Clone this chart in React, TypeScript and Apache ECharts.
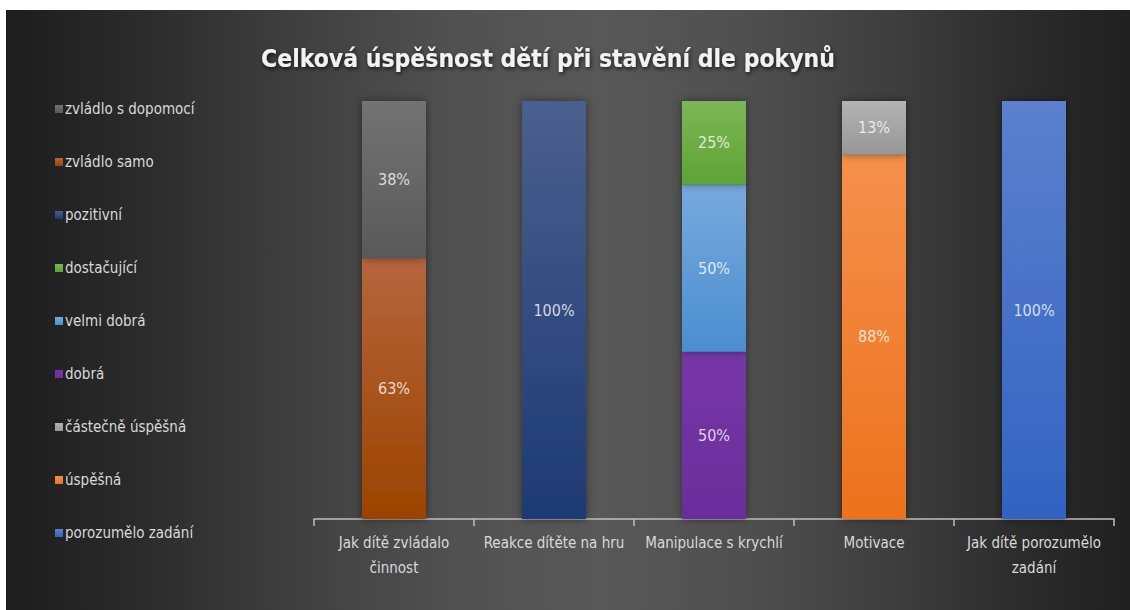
import React, { useEffect, useRef } from "react";
import * as echarts from "echarts";

const titleText = "Celková úspěšnost dětí při stavění dle pokynů";

const categories = [
  "Jak dítě zvládalo\nčinnost",
  "Reakce dítěte na hru",
  "Manipulace s krychlí",
  "Motivace",
  "Jak dítě porozumělo\nzadání",
];

// Series listed in legend order (top of legend first)
const legendNames = [
  "zvládlo s dopomocí",
  "zvládlo samo",
  "pozitivní",
  "dostačující",
  "velmi dobrá",
  "dobrá",
  "částečně úspěšná",
  "úspěšná",
  "porozumělo zadání",
];

// Raw values (percent labels) per series, by category
const zvladloSDopomoci = [38, null, null, null, null];
const zvladloSamo = [63, null, null, null, null];
const pozitivni = [null, 100, null, null, null];
const dostacujici = [null, null, 25, null, null];
const velmiDobra = [null, null, 50, null, null];
const dobra = [null, null, 50, null, null];
const castecneUspesna = [null, null, null, 13, null];
const uspesna = [null, null, null, 88, null];
const porozumeloZadani = [null, null, null, null, 100];

const seriesValues: (number | null)[][] = [
  zvladloSDopomoci,
  zvladloSamo,
  pozitivni,
  dostacujici,
  velmiDobra,
  dobra,
  castecneUspesna,
  uspesna,
  porozumeloZadani,
];

// gradient colors [top, bottom]
const seriesColors: [string, string][] = [
  ["#737373", "#595959"],
  ["#b5653d", "#9c4300"],
  ["#4b5f8e", "#1d3a74"],
  ["#7cb655", "#5fa336"],
  ["#78a9dd", "#4a8ed0"],
  ["#7737a6", "#6a2e9c"],
  ["#b3b3b3", "#979797"],
  ["#f5904c", "#ec721d"],
  ["#5b80cd", "#3263c2"],
];

const FONT = "'DejaVu Sans Condensed', 'Liberation Sans Narrow', sans-serif";

export default function App() {
  const ref = useRef<HTMLDivElement>(null);
  useEffect(() => {
    if (!ref.current) return;
    const chart = echarts.init(ref.current, undefined, { renderer: "svg" });

    const totals = categories.map((_, ci) =>
      seriesValues.reduce((s, arr) => s + (arr[ci] ?? 0), 0)
    );

    // stacking order: bottom first = reverse of legend order
    const order = legendNames.map((_, i) => i).reverse();

    const series = order.map((si) => ({
      name: legendNames[si],
      type: "bar",
      stack: "total",
      barWidth: 64,
      color: {
        type: "linear",
        x: 0,
        y: 0,
        x2: 0,
        y2: 1,
        colorStops: [
          { offset: 0, color: seriesColors[si][0] },
          { offset: 1, color: seriesColors[si][1] },
        ],
      },
      itemStyle: {
        shadowBlur: 8,
        shadowColor: "rgba(0,0,0,0.45)",
      },
      label: {
        show: true,
        position: "inside",
        color: "rgba(255,255,255,0.78)",
        fontFamily: FONT,
        fontSize: 16,
        formatter: (p: any) => (p.data && p.data.raw != null ? p.data.raw + "%" : ""),
      },
      data: seriesValues[si].map((v, ci) =>
        v == null ? null : { value: (v / totals[ci]) * 100, raw: v }
      ),
    }));

    chart.setOption({
      animation: false,
      backgroundColor: {
        type: "linear",
        x: 0,
        y: 0,
        x2: 1,
        y2: 0,
        colorStops: [
          { offset: 0, color: "#1d1d1d" },
          { offset: 0.12, color: "#2b2b2b" },
          { offset: 0.27, color: "#414141" },
          { offset: 0.4, color: "#515151" },
          { offset: 0.53, color: "#585858" },
          { offset: 0.66, color: "#4f4f4f" },
          { offset: 0.79, color: "#3e3e3e" },
          { offset: 0.9, color: "#2c2c2c" },
          { offset: 1, color: "#202020" },
        ],
      },
      title: {
        text: titleText,
        left: 537,
        textAlign: "center",
        top: 31,
        textStyle: {
          color: "#f2f2f2",
          fontFamily: FONT,
          fontWeight: "bold",
          fontSize: 24.5,
          textShadowColor: "rgba(0,0,0,0.7)",
          textShadowBlur: 4,
          textShadowOffsetX: 1,
          textShadowOffsetY: 2,
        },
      },
      legend: {
        orient: "vertical",
        left: 44,
        top: 86,
        itemWidth: 8,
        itemHeight: 8,
        itemGap: 37,
        icon: "rect",
        data: legendNames,
        textStyle: {
          color: "#d9d9d9",
          fontFamily: FONT,
          fontSize: 15,
          lineHeight: 16,
          padding: [0, 0, 0, -3],
        },
      },
      grid: {
        left: 308,
        width: 800,
        top: 91,
        height: 418,
      },
      xAxis: {
        type: "category",
        data: categories,
        axisLine: { lineStyle: { color: "#bfbfbf", width: 1.5 } },
        axisTick: { show: true, length: 7, lineStyle: { color: "#bfbfbf", width: 1.5 } },
        axisLabel: {
          color: "#d9d9d9",
          fontFamily: FONT,
          fontSize: 15,
          lineHeight: 25,
          margin: 11,
          interval: 0,
        },
      },
      yAxis: {
        type: "value",
        min: 0,
        max: 100,
        show: false,
        splitLine: { show: false },
      },
      series,
    });
    return () => chart.dispose();
  }, []);
  return (
    <div
      ref={ref}
      style={{ position: "absolute", left: 6, top: 10, width: 1124, height: 600 }}
    />
  );
}
